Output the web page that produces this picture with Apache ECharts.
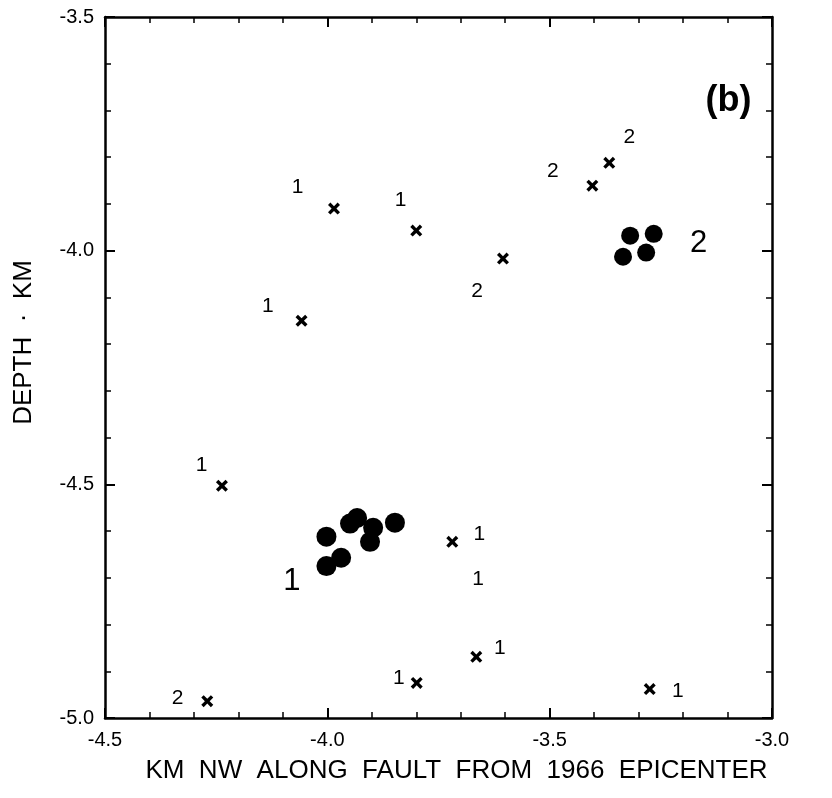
<!DOCTYPE html>
<html><head><meta charset="utf-8">
<script src="https://cdn.jsdelivr.net/npm/echarts@6/dist/echarts.min.js"></script>
<style>html,body{margin:0;padding:0;background:#fff}#c{width:832px;height:798px}</style>
</head><body><div id="c"></div>
<script>
// Crosses (x = km NW along fault, y = depth km)
const crossX = [-3.985, -3.800, -3.605, -3.404, -3.366, -4.058, -4.237, -3.719, -3.665, -3.799, -3.275, -4.270];
const crossY = [-3.910, -3.957, -4.017, -3.861, -3.812, -4.150, -4.503, -4.623, -4.869, -4.925, -4.938, -4.964];
// Cluster 1 dots
const dot1X = [-4.002, -4.002, -3.969, -3.949, -3.933, -3.897, -3.904, -3.848];
const dot1Y = [-4.612, -4.675, -4.657, -4.584, -4.572, -4.593, -4.623, -4.582];
// Cluster 2 dots
const dot2X = [-3.319, -3.266, -3.335, -3.283];
const dot2Y = [-3.968, -3.964, -4.013, -4.004];
// Small labels next to crosses
const labX = [-4.067, -3.835, -3.663, -3.493, -3.321, -4.134, -4.283, -3.658, -3.661, -3.612, -3.839, -3.212, -4.337];
const labY = [-3.865, -3.893, -4.086, -3.829, -3.758, -4.118, -4.460, -4.606, -4.702, -4.850, -4.914, -4.942, -4.957];
const labText = ['1', '1', '2', '2', '2', '1', '1', '1', '1', '1', '1', '1', '2'];
// Big cluster labels
const bigX = [-4.080, -3.165];
const bigY = [-4.707, -3.985];
const bigText = ['1', '2'];
const panelLabel = '(b)';
const panelPos = [-3.098, -3.679];
const xTicks = [-4.5, -4.0, -3.5, -3.0];
const yTicks = [-3.5, -4.0, -4.5, -5.0];
const xName = 'KM  NW  ALONG  FAULT  FROM  1966  EPICENTER';
const yName = 'DEPTH  ·  KM';

const zip = (a, b) => a.map((v, i) => [v, b[i]]);
const FONT = '"Liberation Sans", Arial, sans-serif';
const INK = '#000';
const axisLineStyle = { color: INK, width: 2.5 };

function mkX(pos, labels) {
  return {
    type: 'value', position: pos, min: -4.5, max: -3.0, interval: 0.5,
    name: labels ? xName : '', nameLocation: 'middle', nameGap: 40,
    nameTextStyle: { fontFamily: FONT, fontSize: 26, color: INK, padding: [0, 0, 0, 36] },
    axisLine: { show: true, onZero: false, lineStyle: axisLineStyle },
    axisTick: { show: true, inside: true, length: 10, lineStyle: { color: INK, width: 2 } },
    minorTick: { show: true, splitNumber: 5, length: 6, lineStyle: { color: INK, width: 1.5 } },
    axisLabel: { show: labels, margin: 12, fontFamily: FONT, fontSize: 20, color: INK,
      formatter: v => xTicks.some(t => Math.abs(t - v) < 1e-6) ? v.toFixed(1) : '' },
    splitLine: { show: false }, minorSplitLine: { show: false }
  };
}
function mkY(pos, labels) {
  return {
    type: 'value', position: pos, min: -5.0, max: -3.5, interval: 0.5,
    name: labels ? yName : '', nameLocation: 'middle', nameGap: 68, nameRotate: 90,
    nameTextStyle: { fontFamily: FONT, fontSize: 26, color: INK, padding: [0, 0, 0, 50] },
    axisLine: { show: true, onZero: false, lineStyle: axisLineStyle },
    axisTick: { show: true, inside: true, length: 10, lineStyle: { color: INK, width: 2 } },
    minorTick: { show: true, splitNumber: 5, length: 6, lineStyle: { color: INK, width: 1.5 } },
    axisLabel: { show: labels, margin: 11, fontFamily: FONT, fontSize: 20, color: INK,
      formatter: v => yTicks.some(t => Math.abs(t - v) < 1e-6) ? v.toFixed(1) : '' },
    splitLine: { show: false }, minorSplitLine: { show: false }
  };
}

const crossPath = 'path://M0,2L2,0L5,3L8,0L10,2L7,5L10,8L8,10L5,7L2,10L0,8L3,5Z';
const textSeries = (xs, ys, texts, size, weight) => ({
  type: 'scatter', symbolSize: 0, silent: true,
  itemStyle: { opacity: 1 },
  data: xs.map((x, i) => [x, ys[i], texts[i]]),
  label: { show: true, position: 'inside', formatter: p => p.value[2], opacity: 1,
    fontFamily: FONT, fontSize: size, fontWeight: weight, color: INK }
});

const chart = echarts.init(document.getElementById('c'), null, { renderer: 'canvas' });
chart.setOption({
  backgroundColor: '#fff',
  animation: false,
  grid: { left: 105, right: 60, top: 17, bottom: 80, containLabel: false },
  xAxis: [mkX('bottom', true), mkX('top', false)],
  yAxis: [mkY('left', true), mkY('right', false)],
  series: [
    { type: 'scatter', symbol: crossPath, symbolSize: 12, itemStyle: { color: INK, opacity: 1 }, data: zip(crossX, crossY) },
    { type: 'scatter', symbol: 'circle', symbolSize: 20, itemStyle: { color: INK, opacity: 1 }, data: zip(dot1X, dot1Y) },
    { type: 'scatter', symbol: 'circle', symbolSize: 18, itemStyle: { color: INK, opacity: 1 }, data: zip(dot2X, dot2Y) },
    textSeries(labX, labY, labText, 21, 'normal'),
    textSeries(bigX, bigY, bigText, 31, 'normal'),
    textSeries([panelPos[0]], [panelPos[1]], [panelLabel], 36, 'bold')
  ]
});
</script></body></html>
